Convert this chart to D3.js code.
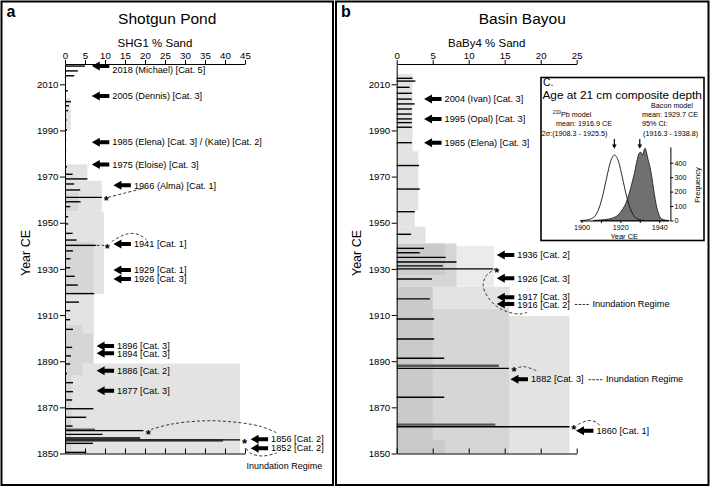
<!DOCTYPE html>
<html>
<head>
<meta charset="utf-8">
<script src="https://cdn.jsdelivr.net/npm/d3@7"></script>
<style>
  body { margin: 0; background: #fff; }
  svg { display: block; }
</style>
</head>
<body>
<svg id="fig"></svg>
<script>
const width = 710;
const height = 487;
const FONT = "'Liberation Sans', Arial, sans-serif";

// shared vertical axis
const yearTicks = [1850, 1870, 1890, 1910, 1930, 1950, 1970, 1990, 2010];

// ---- Shotgun Pond (SHG1) ----
const shgTicks = [0, 5, 10, 15, 20, 25, 30, 35, 40, 45];
// [year, % sand]
const shgSand = [
    [2017.9, 5.0], [2015.8, 3.2], [2013.7, 2.3], [2007.2, 0.7], [2002.5, 1.5],
    [2000.7, 1.0], [1998.6, 0.8], [1994.5, 0.4], [1990.2, 0.5], [1985.8, 0.3],
    [1981.5, 0.3], [1977.2, 0.3], [1974.3, 0.5], [1971.0, 1.9], [1969.0, 5.6],
    [1966.8, 2.3], [1964.2, 3.8], [1961.0, 9.2], [1959.1, 3.9], [1957.0, 1.3],
    [1952.6, 0.8], [1949.5, 0.8], [1945.4, 1.9], [1942.5, 2.9], [1940.2, 7.7],
    [1937.8, 2.0], [1934.4, 1.4], [1930.5, 1.3], [1926.8, 2.4], [1923.0, 3.2],
    [1919.3, 7.3], [1915.6, 3.5], [1911.9, 1.3], [1908.0, 1.3], [1903.8, 2.0],
    [1899.9, 0.3], [1896.0, 1.8], [1892.3, 1.5], [1888.8, 1.3], [1884.7, 0.5],
    [1880.7, 2.0], [1876.8, 2.0], [1873.2, 1.8], [1869.4, 7.1], [1865.7, 5.3],
    [1861.9, 1.9], [1859.9, 19.6], [1858.3, 9.4], [1856.7, 18.8], [1855.9, 43.8],
    [1854.4, 7.0], [1850.5, 5.3]
];
const shgSandGray = [[1860.3, 7.5], [1855.6, 39.5]];
// [from year, to year, % sand extent, shade level]
const shgRegimes = [
    [1850, 1889, 43.75, 1], [1889, 1919.2, 7.2, 1], [1919.2, 1954.8, 9.75, 1],
    [1954.8, 1968.2, 9.2, 1], [1968.2, 1975.3, 5.6, 1], [1990, 2004, 1.4, 1],
    [1919.2, 1941.8, 7.1, 2], [1889, 1902, 7.0, 2], [1884, 1905.7, 4.4, 2],
    [1850, 1884, 1.6, 2], [1955, 1963, 3.3, 2]
];
// [year, % sand at arrow tip, label, inundation note, label shift]
const shgEvents = [
    [2017.9, 6.7, "2018 (Michael) [Cat. 5]", false, 4],
    [2004.9, 6.7, "2005 (Dennis) [Cat. 3]"],
    [1984.9, 6.7, "1985 (Elena) [Cat. 3] / (Kate) [Cat. 2]"],
    [1975.2, 6.7, "1975 (Eloise) [Cat. 3]"],
    [1966.2, 12.1, "1966 (Alma) [Cat. 1]"],
    [1940.8, 12.1, "1941 [Cat. 1]"],
    [1929.5, 12.1, "1929 [Cat. 1]"],
    [1925.6, 12.1, "1926 [Cat. 3]"],
    [1896.6, 7.9, "1896 [Cat. 3]", false, -0.6],
    [1893.4, 7.9, "1894 [Cat. 3]", false, 0.6],
    [1885.9, 7.9, "1886 [Cat. 2]"],
    [1877.2, 7.9, "1877 [Cat. 3]"],
    [1856.2, 46.4, "1856 [Cat. 2]"],
    [1852.3, 46.4, "1852 [Cat. 2]"]
];
const shgStars = [[1961.0, 10.3], [1940.2, 10.6], [1859.7, 20.8], [1856.0, 44.9]];
const shgLinks = [
    [[1961.0, 10.8], [1962.9, 15], [1965.1, 20]],
    [[1940.2, 7.9], [1940.2, 9.8]],
    [[1941.8, 11.7], [1944.6, 14.5], [1945.4, 16.7], [1944.6, 18.8], [1942.5, 20.4]],
    [[1860.4, 21.5], [1862.6, 26.2], [1864.1, 33.8], [1863.8, 41.2], [1861.8, 48.8], [1859.0, 52.9]],
    [[1852.2, 45.3], [1850.2, 46.3], [1848.9, 49.3], [1850.2, 53.0]]
];

// ---- Basin Bayou (BaBy4) ----
const babTicks = [0, 5, 10, 15, 20, 25];
const babSand = [
    [2012.6, 2.2], [2011.4, 2.6], [2008.7, 1.8], [2006.1, 2.1], [2003.6, 2.1],
    [2001.5, 2.5], [1999.3, 2.1], [1997.1, 2.1], [1995.0, 2.1], [1993.4, 2.1],
    [1991.4, 2.1], [1984.7, 2.1], [1974.8, 3.1], [1964.6, 3.2], [1954.8, 2.5],
    [1945.0, 2.0], [1938.9, 3.8], [1937.0, 3.2], [1935.0, 6.8], [1933.0, 8.3],
    [1931.3, 6.4], [1930.0, 13.4], [1925.6, 4.9], [1917.0, 4.6], [1908.3, 5.2],
    [1899.6, 5.2], [1891.3, 6.6], [1886.9, 15.6], [1874.4, 6.6], [1861.6, 24.0]
];
const babSandGray = [[1888.0, 14.2], [1862.5, 13.7]];
const babRegimes = [
    [1850, 1909.6, 24, 1], [1850, 1912.9, 15.6, 2], [1912.9, 1922.3, 15.7, 1],
    [1855.9, 1922.3, 5.0, 3], [1850, 1855.9, 6.7, 3], [1922.3, 1940, 13.5, 0],
    [1922.3, 1941, 8.3, 2], [1927.4, 1941, 6.7, 3], [1941, 1948.3, 4.0, 1],
    [1948.3, 1955.4, 2.5, 1], [1955.4, 1981, 3.0, 1], [1981, 2014.4, 2.2, 1]
];
const babEvents = [
    [2003.6, 3.8, "2004 (Ivan) [Cat. 3]"],
    [1995.0, 3.8, "1995 (Opal) [Cat. 3]"],
    [1984.7, 3.8, "1985 (Elena) [Cat. 3]"],
    [1936.0, 13.9, "1936 [Cat. 2]"],
    [1925.9, 13.9, "1926 [Cat. 3]"],
    [1917.7, 13.9, "1917 [Cat. 3]", false, -1],
    [1914.8, 13.9, "1916 [Cat. 2]", true, 0.8],
    [1882.2, 15.8, "1882 [Cat. 3]", true],
    [1859.9, 24.9, "1860 [Cat. 1]"]
];
const babStars = [[1929.8, 13.9], [1887.0, 16.3], [1861.9, 24.6]];
const babLinks = [
    [[1930.3, 13.8], [1926.9, 12.4], [1922.8, 12.0], [1918.1, 12.6], [1913.7, 13.9], [1911.4, 15.4], [1910.4, 17.1], [1911.2, 18.1]],
    [[1887.3, 16.9], [1887.6, 17.8], [1885.9, 19.4]],
    [[1862.6, 25.2], [1864.3, 26.6], [1863.6, 27.7], [1861.3, 28.4]]
];

// ---- inset c: age at 21 cm ----
const ageTicks = [1900, 1910, 1920, 1930, 1940];
const freqTicks = [0, 100, 200, 300, 400];
// [year, frequency]
const pbCurve = [
    [1899.5, 0], [1902, 2], [1905, 12], [1907, 32], [1909, 85], [1911, 178],
    [1913, 300], [1915, 410], [1916.9, 453], [1919, 410], [1921, 300], [1923, 178],
    [1925, 85], [1927, 32], [1929, 10], [1931, 2], [1933, 0]
];
const baconCurve = [
    [1906, 0], [1910, 4], [1914, 10], [1917, 22], [1919, 40], [1921, 75], [1923, 125],
    [1924.5, 185], [1926, 260], [1927.3, 330], [1928.5, 410], [1929.5, 460], [1930.3, 472],
    [1931, 466], [1931.6, 452], [1932.2, 488], [1932.8, 500], [1933.5, 468], [1934.3, 420],
    [1935.3, 368], [1936.2, 300], [1937.2, 210], [1938.2, 128], [1939.2, 68], [1940.3, 28],
    [1941.5, 10], [1943, 3], [1945, 0]
];

const shades = ["#ebebeb", "#e3e3e3", "#d6d6d6", "#cacaca"];

const svg = d3.select("#fig")
    .attr("width", width)
    .attr("height", height)
    .style("font-family", FONT);

const y = d3.scaleLinear()
    .domain([1850, 2018.8])
    .range([453.5, 64]);

function arrowPath(x0, y0, len) {
    return `M${x0},${y0} L${x0 + 8},${y0 - 4.5} L${x0 + 8},${y0 - 2} L${x0 + len},${y0 - 2} L${x0 + len},${y0 + 2} L${x0 + 8},${y0 + 2} L${x0 + 8},${y0 + 4.5} Z`;
}

function drawPanel(p) {
    const g = svg.append("g");

    const x = d3.scaleLinear()
        .domain([0, p.ticks[p.ticks.length - 1]])
        .range(p.range);

    // frame
    g.append("rect")
        .attr("x", p.frame[0]).attr("y", 1.5)
        .attr("width", p.frame[1] - p.frame[0]).attr("height", 483.5)
        .attr("fill", "none").attr("stroke", "#000").attr("stroke-width", 2);

    g.append("text")
        .attr("x", p.frame[0] + 5).attr("y", 17)
        .attr("font-size", 16).attr("font-weight", "bold")
        .text(p.letter);

    g.append("text")
        .attr("x", (p.frame[0] + p.frame[1]) / 2).attr("y", 24)
        .attr("text-anchor", "middle").attr("font-size", 15.5)
        .text(p.title);

    g.append("text")
        .attr("x", (x(0) + x.range()[1]) / 2).attr("y", 47)
        .attr("text-anchor", "middle").attr("font-size", 11.5)
        .text(p.xTitle);

    // inundation regimes
    g.selectAll("rect.reg")
        .data(p.regimes)
        .join("rect")
        .attr("class", "reg")
        .attr("x", x(0))
        .attr("y", d => y(d[1]))
        .attr("width", d => x(d[2]) - x(0))
        .attr("height", d => y(d[0]) - y(d[1]))
        .attr("fill", d => shades[d[3]]);

    // sand bars
    g.selectAll("line.gbar")
        .data(p.gray)
        .join("line")
        .attr("x1", x(0)).attr("x2", d => x(d[1]))
        .attr("y1", d => y(d[0])).attr("y2", d => y(d[0]))
        .attr("stroke", "#555").attr("stroke-width", 2.4);

    g.selectAll("line.bar")
        .data(p.sand)
        .join("line")
        .attr("class", "bar")
        .attr("x1", x(0)).attr("x2", d => x(d[1]))
        .attr("y1", d => y(d[0])).attr("y2", d => y(d[0]))
        .attr("stroke", "#000").attr("stroke-width", 1.4);

    // axes
    const top = g.append("g")
        .attr("transform", `translate(0,${y(2018.8)})`)
        .call(d3.axisTop(x).tickValues(p.ticks).tickSize(4).tickPadding(1).tickSizeOuter(0));
    const left = g.append("g")
        .attr("transform", `translate(${x(0)},0)`)
        .call(d3.axisLeft(y).tickValues(yearTicks).tickFormat(d3.format("d")).tickSize(5).tickPadding(1.5).tickSizeOuter(0));
    const bottom = g.append("g")
        .attr("transform", `translate(0,${y(1850)})`)
        .call(d3.axisTop(x).tickValues(p.ticks).tickFormat("").tickSize(5).tickSizeOuter(0));
    [top, left, bottom].forEach(a => a.attr("font-family", FONT).attr("font-size", 9.7));

    g.append("text")
        .attr("transform", `translate(${p.yTitleX},253) rotate(-90)`)
        .attr("text-anchor", "middle").attr("font-size", 12.5)
        .text("Year CE");

    // dashed links
    const link = d3.line()
        .x(d => x(d[1]))
        .y(d => y(d[0]))
        .curve(d3.curveCatmullRom);
    g.selectAll("path.link")
        .data(p.links)
        .join("path")
        .attr("d", link)
        .attr("fill", "none").attr("stroke", "#222")
        .attr("stroke-width", 0.9).attr("stroke-dasharray", "3,2.2");

    g.selectAll("text.star")
        .data(p.stars)
        .join("text")
        .attr("x", d => x(d[1])).attr("y", d => y(d[0]))
        .attr("dy", "0.62em").attr("text-anchor", "middle")
        .attr("font-size", 13).attr("font-weight", "bold")
        .text("*");

    // hurricane arrows
    g.selectAll("path.arrow")
        .data(p.events)
        .join("path")
        .attr("d", d => arrowPath(x(d[1]), y(d[0]), 17.5))
        .attr("fill", "#000");

    const labels = g.selectAll("text.ev")
        .data(p.events)
        .join("text")
        .attr("x", d => x(d[1]) + 20.5).attr("y", d => y(d[0]) + (d[4] || 0))
        .attr("dy", "0.35em").attr("font-size", 9.2)
        .text(d => d[2]);

    labels.filter(d => d[3]).each(function (d) {
        const x0 = x(d[1]) + 20.5 + this.getComputedTextLength() + 5;
        g.append("line")
            .attr("x1", x0).attr("x2", x0 + 14)
            .attr("y1", y(d[0]) + 0.5).attr("y2", y(d[0]) + 0.5)
            .attr("stroke", "#000").attr("stroke-width", 0.8)
            .attr("stroke-dasharray", "2.6,1.2");
        g.append("text")
            .attr("x", x0 + 17.5).attr("y", y(d[0]))
            .attr("dy", "0.35em").attr("font-size", 9.2)
            .text("Inundation Regime");
    });

    return x;
}

const xa = drawPanel({
    frame: [1.5, 333], letter: "a", title: "Shotgun Pond", yTitleX: 30,
    xTitle: "SHG1 % Sand", ticks: shgTicks, range: [65, 245],
    regimes: shgRegimes, sand: shgSand, gray: shgSandGray,
    events: shgEvents, stars: shgStars, links: shgLinks
});

svg.append("text")
    .attr("x", xa(45.4)).attr("y", y(1850) + 15)
    .attr("font-size", 9).text("Inundation Regime");

drawPanel({
    frame: [336, 708.5], letter: "b", title: "Basin Bayou", yTitleX: 361,
    xTitle: "BaBy4 % Sand", ticks: babTicks, range: [396.7, 576.7],
    regimes: babRegimes, sand: babSand, gray: babSandGray,
    events: babEvents, stars: babStars, links: babLinks
});

// ---- inset c ----
const inset = svg.append("g");
inset.append("rect")
    .attr("x", 541).attr("y", 77.5).attr("width", 163).attr("height", 163)
    .attr("fill", "#fff").attr("stroke", "#000").attr("stroke-width", 1.6);

const ix = d3.scaleLinear().domain([1899, 1945]).range([579.6, 668.9]);
const iy = d3.scaleLinear().domain([0, 510]).range([220.5, 146.8]);

const area = d3.area()
    .x(d => ix(d[0]))
    .y0(iy(0))
    .y1(d => iy(d[1]))
    .curve(d3.curveMonotoneX);
inset.append("path")
    .datum(baconCurve)
    .attr("d", area)
    .attr("fill", "#707070").attr("stroke", "#111").attr("stroke-width", 0.8);

inset.append("path")
    .datum(pbCurve)
    .attr("d", d3.line().x(d => ix(d[0])).y(d => iy(d[1])).curve(d3.curveMonotoneX))
    .attr("fill", "none").attr("stroke", "#111").attr("stroke-width", 0.9);

const ixAxis = inset.append("g")
    .attr("transform", `translate(0,${iy(0)})`)
    .call(d3.axisBottom(ix).tickValues(ageTicks).tickFormat(d => d % 20 === 0 ? d : "").tickSize(2.5).tickPadding(1.5).tickSizeOuter(0));
const iyAxis = inset.append("g")
    .attr("transform", `translate(${ix(1945) + 1.5},0)`)
    .call(d3.axisRight(iy).tickValues(freqTicks).tickSize(3).tickPadding(1).tickSizeOuter(0));
[ixAxis, iyAxis].forEach(a => a.attr("font-family", FONT).attr("font-size", 7.2));

inset.append("text")
    .attr("x", (ix(1899) + ix(1945)) / 2).attr("y", 238.5)
    .attr("text-anchor", "middle").attr("font-size", 7.5).text("Year CE");
inset.append("text")
    .attr("transform", `translate(700,185) rotate(-90)`)
    .attr("text-anchor", "middle").attr("font-size", 7.5).text("Frequency");

inset.append("text").attr("x", 543).attr("y", 86).attr("font-size", 10.5).text("C.");
inset.append("text").attr("x", 542.5).attr("y", 98.5).attr("font-size", 11.8)
    .text("Age at 21 cm composite depth");

const small = [
    [553, 116.5, null],
    [556, 126.3, "mean: 1916.9 CE"],
    [541.8, 135.8, "2\u03C3:(1908.3 - 1925.5)"],
    [651, 107.5, "Bacon model"],
    [642, 116.5, "mean: 1929.7 CE"],
    [642, 126.3, "95% CI:"],
    [643, 135.8, "(1916.3 - 1938.8)"]
];
small.forEach(s => {
    const t = inset.append("text").attr("x", s[0]).attr("y", s[1]).attr("font-size", 7.2);
    if (s[2]) {
        t.text(s[2]);
    } else {
        t.append("tspan").attr("font-size", 4.8).attr("dy", -2.5).text("210");
        t.append("tspan").attr("dy", 2.5).text("Pb model");
    }
});

// down arrows over the means
[1916.9, 1930].forEach(m => {
    const ax = ix(m);
    inset.append("line")
        .attr("x1", ax).attr("x2", ax).attr("y1", 139).attr("y2", 145)
        .attr("stroke", "#000").attr("stroke-width", 1.2);
    inset.append("path")
        .attr("d", `M${ax - 2.3},144.5 L${ax + 2.3},144.5 L${ax},148.8 Z`)
        .attr("fill", "#000");
});
</script>
</body>
</html>
